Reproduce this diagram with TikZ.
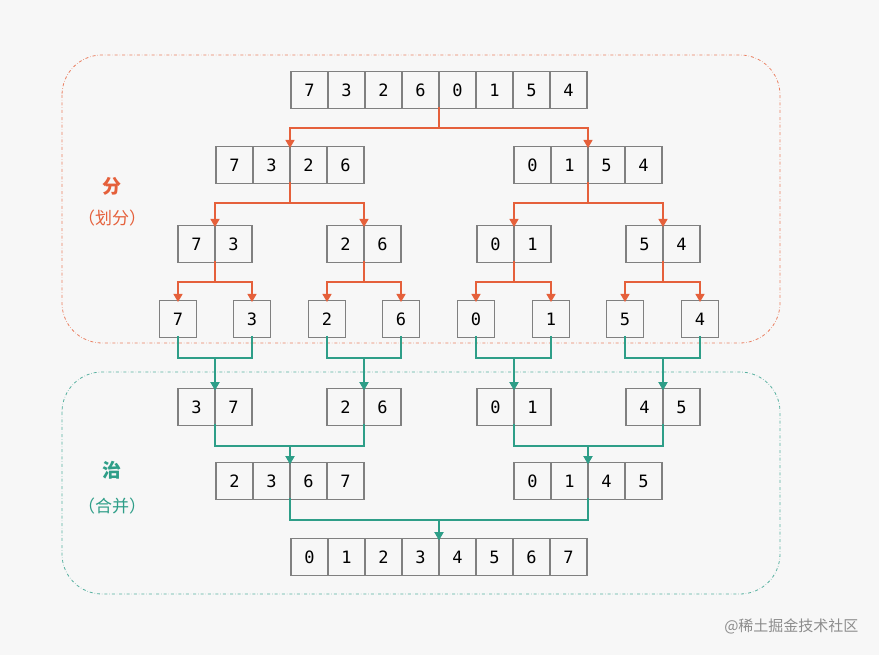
\documentclass[tikz,border=0pt]{standalone}
\usepackage{fontspec}
\setmonofont{DejaVu Sans Mono}
\newfontfamily\cjk{Noto Sans CJK SC}
\usetikzlibrary{arrows.meta}
\definecolor{splitc}{HTML}{E5603B}
\definecolor{mergec}{HTML}{2E9E88}
\definecolor{bgc}{HTML}{F7F7F7}

% one array: name, centre x, centre y, length, values
\newcommand\arr[5]{%
  \foreach \v [count=\i] in {#5}
    \node[cell] (#1-\i) at ({#2+(\i-(#4+1)/2)*37},#3) {\v};
  \coordinate (#1-t) at (#2,#3-17);
  \coordinate (#1-b) at (#2,#3+17);}

\begin{document}
\begin{tikzpicture}[x=1pt,y=-1pt,
    cell/.style={draw=black!50, line width=1.4pt, minimum size=37pt, inner sep=0pt,
      font=\ttfamily\fontsize{17}{17}\selectfont},
    split/.style={splitc, line width=1.3pt, -{Triangle[length=8pt,width=9pt]}},
    merge/.style={mergec, line width=1.3pt, -{Triangle[length=8pt,width=9pt]}},
    zone/.style={dash dot, line width=0.8pt, rounded corners=40pt}]
    \fill[bgc] (0,0) rectangle (879,655);
    \useasboundingbox (0,0) rectangle (879,655);

    % zones
    \draw[zone, splitc!80] (62,55) rectangle (780,343);
    \draw[zone, mergec!80] (62,372) rectangle (780,594);
    \node[splitc, font=\cjk\fontsize{19}{19}\selectfont\bfseries] (fen) at (112,186) {分};
    \node[splitc, font=\cjk\fontsize{17}{17}\selectfont] (fenx) at (112,218) {（划分）};
    \node[mergec, font=\cjk\fontsize{19}{19}\selectfont\bfseries] (zhi) at (112,470) {治};
    \node[mergec, font=\cjk\fontsize{17}{17}\selectfont] (zhix) at (112,506) {（合并）};

    % split rows
    \arr{r0}{439}{90}{8}{7,3,2,6,0,1,5,4}
    \arr{r1a}{290}{165}{4}{7,3,2,6}
    \arr{r1b}{588}{165}{4}{0,1,5,4}
    \arr{r2a}{215}{244}{2}{7,3}
    \arr{r2b}{364}{244}{2}{2,6}
    \arr{r2c}{514}{244}{2}{0,1}
    \arr{r2d}{663}{244}{2}{5,4}
    \arr{r3a}{178}{319}{1}{7}
    \arr{r3b}{252}{319}{1}{3}
    \arr{r3c}{327}{319}{1}{2}
    \arr{r3d}{401}{319}{1}{6}
    \arr{r3e}{476}{319}{1}{0}
    \arr{r3f}{551}{319}{1}{1}
    \arr{r3g}{625}{319}{1}{5}
    \arr{r3h}{700}{319}{1}{4}

    % merge rows
    \arr{m1a}{215}{407}{2}{3,7}
    \arr{m1b}{364}{407}{2}{2,6}
    \arr{m1c}{514}{407}{2}{0,1}
    \arr{m1d}{663}{407}{2}{4,5}
    \arr{m2a}{290}{481}{4}{2,3,6,7}
    \arr{m2b}{588}{481}{4}{0,1,4,5}
    \arr{m3}{439}{557}{8}{0,1,2,3,4,5,6,7}

    % split arrows
    \foreach \p/\c in {r0/r1a, r0/r1b, r1a/r2a, r1a/r2b, r1b/r2c, r1b/r2d,
        r2a/r3a, r2a/r3b, r2b/r3c, r2b/r3d, r2c/r3e, r2c/r3f, r2d/r3g, r2d/r3h}
      \draw[split] (\p-b) -- ++(0,21) -| (\c-t);

    % merge arrows
    \foreach \c/\p in {r3a/m1a, r3b/m1a, r3c/m1b, r3d/m1b, r3e/m1c, r3f/m1c, r3g/m1d, r3h/m1d,
        m1a/m2a, m1b/m2a, m1c/m2b, m1d/m2b, m2a/m3, m2b/m3}
      \draw[merge] (\c-b) -- ++(0,22) -| (\p-t);

    \node[black!45, font=\cjk\fontsize{15}{15}\selectfont, anchor=east] (mark) at (862,626) {@稀土掘金技术社区};
\end{tikzpicture}
\end{document}
